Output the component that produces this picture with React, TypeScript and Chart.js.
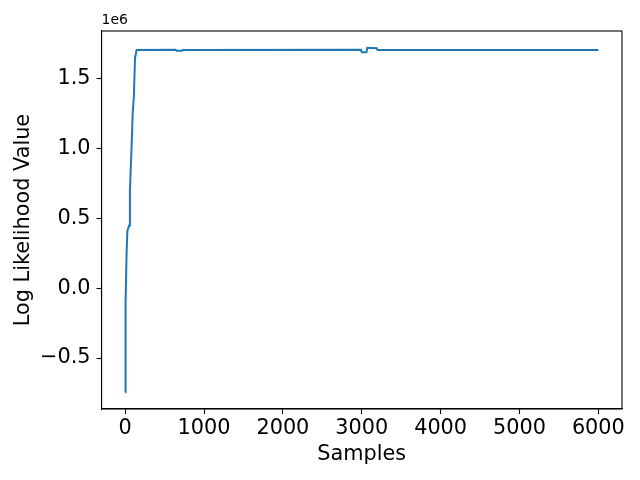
import React, { useEffect, useRef } from "react";
import { Chart, registerables } from "chart.js";

Chart.register(...registerables);

// Samples (x) and log-likelihood values (y)
const samples: number[] = [
  0, 2, 8, 18, 28, 50, 60, 80, 95, 110, 125, 145, 640, 650, 720, 730,
  2990, 3000, 3060, 3070, 3190, 3200, 6000,
];
const logLik: number[] = [
  -745000, -300000, -100000, 250000, 410000, 450000, 700000, 990000, 1250000,
  1370000, 1650000, 1707000, 1708000, 1702000, 1702000, 1707000, 1708000,
  1690000, 1690000, 1723000, 1720000, 1706000, 1706000,
];
const xTicks: number[] = [0, 1000, 2000, 3000, 4000, 5000, 6000];
const yTicks: number[] = [-500000, 0, 500000, 1000000, 1500000];
const yTickLabels: string[] = ["\u22120.5", "0.0", "0.5", "1.0", "1.5"];
const xTitle = "Samples";
const yTitle = "Log Likelihood Value";
const offsetText = "1e6";

const FONT = "'DejaVu Sans', sans-serif";

export default function App() {
  const ref = useRef<HTMLCanvasElement | null>(null);
  useEffect(() => {
    document.body.style.margin = "0";
    const ctx = ref.current!;
    const framePlugin = {
      id: "frame",
      afterDraw(chart: any) {
        const { ctx, chartArea } = chart;
        ctx.save();
        ctx.strokeStyle = "#000";
        ctx.lineWidth = 1.1;
        ctx.strokeRect(chartArea.left, chartArea.top, chartArea.right - chartArea.left, chartArea.bottom - chartArea.top);
        ctx.fillStyle = "#000";
        ctx.font = `14px ${FONT}`;
        ctx.textAlign = "left";
        ctx.textBaseline = "bottom";
        ctx.fillText(offsetText, chartArea.left, chartArea.top - 4);
        ctx.restore();
      },
    };
    const chart = new Chart(ctx, {
      type: "scatter",
      data: {
        datasets: [
          {
            data: samples.map((x, i) => ({ x, y: logLik[i] })),
            showLine: true,
            borderColor: "#1f77b4",
            backgroundColor: "#1f77b4",
            borderWidth: 2,
            pointRadius: 0,
            tension: 0,
          },
        ],
      },
      options: {
        animation: false,
        responsive: false,
        maintainAspectRatio: false,
        layout: { padding: { top: 31, right: 18, left: 0, bottom: 0 } },
        plugins: { legend: { display: false }, tooltip: { enabled: false } },
        scales: {
          x: {
            type: "linear",
            min: -300,
            max: 6300,
            afterFit(scale: any) {
              scale.height = 71;
            },
            afterBuildTicks(scale: any) {
              scale.ticks = xTicks.map((v) => ({ value: v }));
            },
            grid: { drawOnChartArea: false, tickLength: 5, color: "#000", tickWidth: 1.1 },
            border: { color: "#000", width: 1.1 },
            ticks: {
              color: "#000",
              font: { family: FONT, size: 20.8 },
              padding: 2,
              maxRotation: 0,
              callback: (v: any) => String(v),
            },
            title: {
              display: true,
              text: xTitle,
              color: "#000",
              font: { family: FONT, size: 20.8 },
              padding: { top: 0, bottom: 13 },
            },
          },
          y: {
            type: "linear",
            min: -865000,
            max: 1843000,
            afterFit(scale: any) {
              scale.width = 101.5;
            },
            afterBuildTicks(scale: any) {
              scale.ticks = yTicks.map((v) => ({ value: v }));
            },
            grid: { drawOnChartArea: false, tickLength: 5, color: "#000", tickWidth: 1.1 },
            border: { color: "#000", width: 1.1 },
            ticks: {
              color: "#000",
              font: { family: FONT, size: 20.8 },
              padding: 6,
              callback: (v: any) => {
                const i = yTicks.indexOf(Number(v));
                return i >= 0 ? yTickLabels[i] : "";
              },
            },
            title: {
              display: true,
              text: yTitle,
              color: "#000",
              font: { family: FONT, size: 20.8 },
              padding: { top: 11, bottom: 0 },
            },
          },
        },
      },
      plugins: [framePlugin],
    } as any);
    return () => chart.destroy();
  }, []);
  return (
    <div style={{ position: "absolute", left: 0, top: 0, width: 640, height: 480, background: "#fff" }}>
      <canvas ref={ref} width={640} height={480} style={{ display: "block", width: 640, height: 480 }} />
    </div>
  );
}
